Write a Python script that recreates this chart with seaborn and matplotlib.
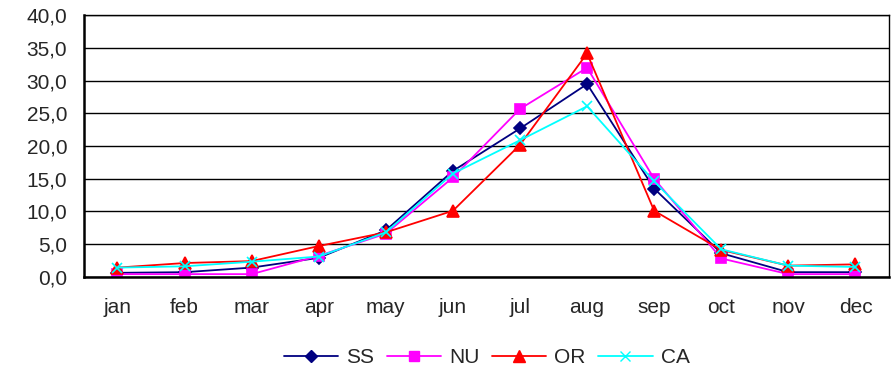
import pandas as pd
import numpy as np
import matplotlib
matplotlib.use("Agg")
import matplotlib.pyplot as plt
from matplotlib.lines import Line2D
import seaborn as sns

months = ["jan", "feb", "mar", "apr", "may", "jun", "jul", "aug", "sep", "oct", "nov", "dec"]
ss = [0.6, 0.7, 1.4, 2.9, 7.1, 16.2, 22.7, 29.5, 13.5, 3.6, 0.7, 0.7]
nu = [0.4, 0.4, 0.4, 3.2, 6.6, 15.2, 25.7, 32.0, 15.0, 2.8, 0.4, 0.4]
orr = [1.4, 2.1, 2.4, 4.7, 6.8, 10.1, 20.2, 34.2, 10.1, 4.1, 1.7, 1.9]
ca = [1.4, 1.6, 2.3, 3.1, 6.8, 15.8, 20.9, 26.1, 14.6, 4.2, 1.7, 1.5]
series = ["SS", "NU", "OR", "CA"]

sns.set_style("white")
plt.rcParams["font.family"] = ["Liberation Sans", "DejaVu Sans"]

palette = {"SS": "#000080", "NU": "#ff00ff", "OR": "#ff0000", "CA": "#00ffff"}
markers = {"SS": "D", "NU": "s", "OR": "^", "CA": "x"}
msize = {"SS": 6.5, "NU": 7, "OR": 8, "CA": 7}
fs = 15

fig, ax = plt.subplots(figsize=(8.93, 3.69), dpi=100)
fig.subplots_adjust(left=0.094, right=0.9955, top=0.958, bottom=0.25)

# one lineplot per series (mixed filled / line markers)
for s, v in zip(series, [ss, nu, orr, ca]):
    d = pd.DataFrame({"month": months, "value": v})
    sns.lineplot(data=d, x="month", y="value", color=palette[s], marker=markers[s],
                 markersize=msize[s], markeredgecolor=palette[s], markeredgewidth=1.2,
                 linewidth=1.3, sort=False, ax=ax)

ax.set_xlim(-0.5, 11.5)
ax.set_ylim(0, 40)
yt = np.arange(0, 41, 5)
ax.set_yticks(yt)
ax.set_yticklabels([f"{t:.1f}".replace(".", ",") for t in yt], fontsize=fs)
ax.set_xticks(range(12))
ax.set_xticklabels(months, fontsize=fs)
ax.set_xticks(np.arange(-0.5, 12, 1), minor=True)
ax.tick_params(axis="x", which="major", length=0, pad=15)
ax.tick_params(axis="x", which="minor", length=5, width=1, color="black", direction="out")
ax.tick_params(axis="y", length=5, width=1, color="black", direction="out", pad=7)
ax.set_xlabel("")
ax.set_ylabel("")
ax.grid(axis="y", color="black", linewidth=1)
for sp in ax.spines.values():
    sp.set_color("black")
    sp.set_linewidth(1)
ax.spines["left"].set_linewidth(1.8)
ax.spines["bottom"].set_linewidth(1.8)

handles = [Line2D([], [], color=palette[s], marker=markers[s], markersize=msize[s],
                  linewidth=1.3) for s in series]
fig.legend(handles, series, loc="center", bbox_to_anchor=(0.545, 0.03), ncol=4,
           frameon=False, fontsize=fs, handlelength=2.6, handletextpad=0.4, columnspacing=0.6)

plt.savefig("out.png", dpi=100)
